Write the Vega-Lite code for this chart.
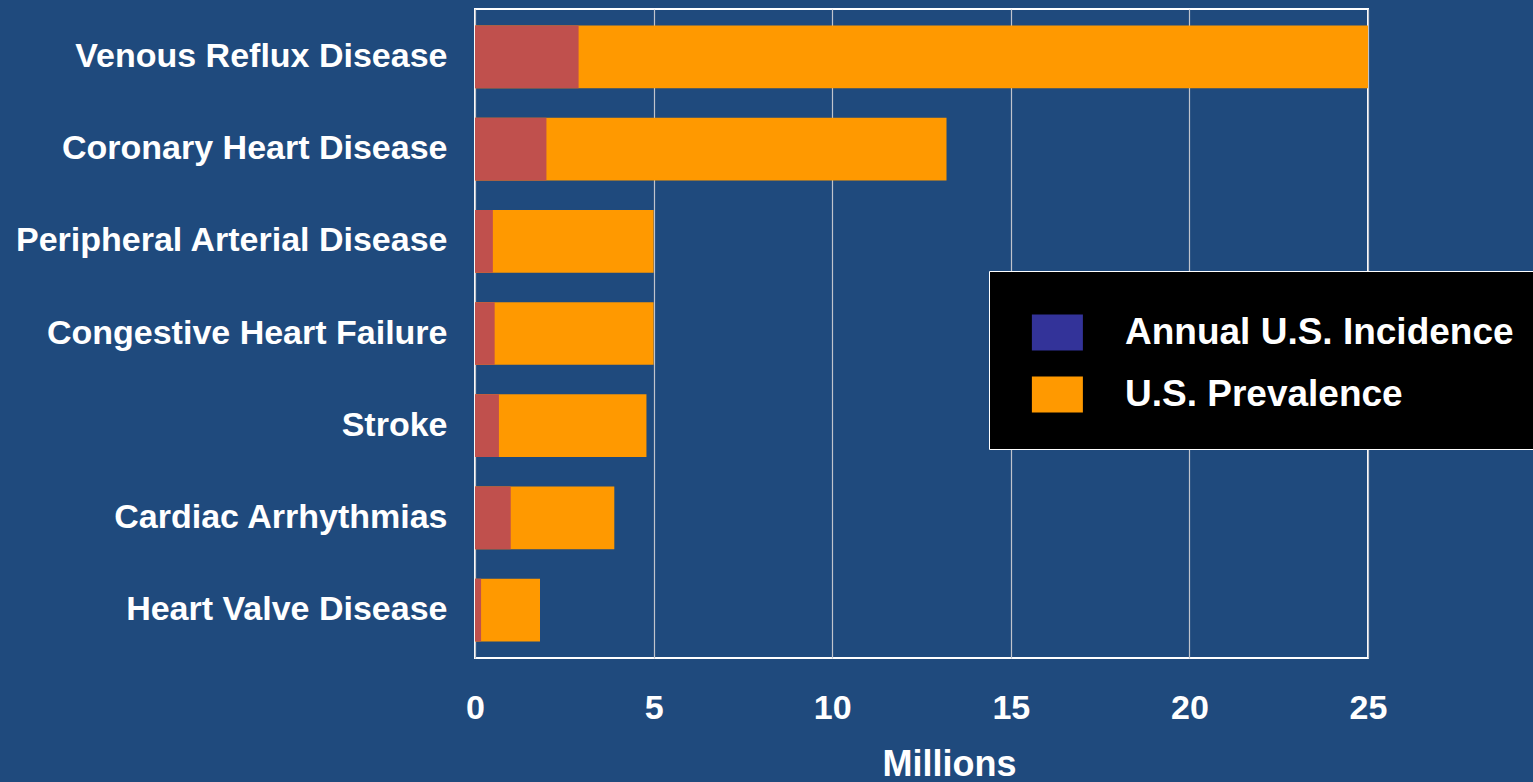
{
  "$schema": "https://vega.github.io/schema/vega-lite/v6.json",
  "autosize": "none",
  "padding": {"left": 475, "top": 9, "right": 165, "bottom": 124},
  "width": 893,
  "height": 649,
  "background": "#1F4A7D",
  "config": {
    "font": "Liberation Sans",
    "view": {"stroke": "#FFFFFF", "strokeWidth": 2, "fill": "#1F4A7D"},
    "axis": {"labelFont": "Liberation Sans", "labelFontWeight": "bold", "labelColor": "#FFFFFF", "titleFont": "Liberation Sans", "titleFontWeight": "bold", "titleColor": "#FFFFFF"}
  },
  "data": {
    "values": [
      {"disease": "Venous Reflux Disease", "incidence": 2.9, "prevalence": 25},
      {"disease": "Coronary Heart Disease", "incidence": 2.0, "prevalence": 13.2},
      {"disease": "Peripheral Arterial Disease", "incidence": 0.5, "prevalence": 5.0},
      {"disease": "Congestive Heart Failure", "incidence": 0.55, "prevalence": 5.0},
      {"disease": "Stroke", "incidence": 0.67, "prevalence": 4.8},
      {"disease": "Cardiac Arrhythmias", "incidence": 1.0, "prevalence": 3.9},
      {"disease": "Heart Valve Disease", "incidence": 0.17, "prevalence": 1.82}
    ]
  },
  "encoding": {
    "y": {
      "field": "disease", "type": "nominal", "sort": null,
      "scale": {"paddingInner": 0.32, "paddingOuter": 0.18},
      "axis": {"title": null, "ticks": false, "domain": false, "labelFontSize": 34, "labelPadding": 28, "labelLimit": 600, "grid": false}
    }
  },
  "layer": [
    {
      "mark": {"type": "bar", "clip": true},
      "encoding": {
        "x": {
          "field": "prevalence", "type": "quantitative",
          "scale": {"domain": [0, 25], "nice": false},
          "axis": {"title": "Millions", "values": [0, 5, 10, 15, 20, 25], "ticks": false, "domain": false, "grid": true, "gridColor": "#C0C4CC", "gridWidth": 1.2, "labelFlush": false, "labelFontSize": 34, "labelPadding": 33, "titleFontSize": 36, "titlePadding": 22, "titleX": 474}
        },
        "color": {
          "datum": "U.S. Prevalence",
          "scale": {"domain": ["Annual U.S. Incidence", "U.S. Prevalence"], "range": ["#333399", "#FF9900"]},
          "legend": {
            "title": null,
            "orient": "none",
            "legendX": 514,
            "legendY": 262,
            "fillColor": "#000000",
            "strokeColor": "#FFFFFF",
            "padding": 36,
            "symbolType": "M-0.73,-0.706L1.27,-0.706L1.27,0.706L-0.73,0.706Z",
            "symbolSize": 2601,
            "symbolStrokeWidth": 0,
            "symbolOpacity": 1,
            "labelFontSize": 37,
            "labelFont": "Liberation Sans",
            "labelFontWeight": "bold",
            "labelColor": "#FFFFFF",
            "labelOffset": 49,
            "labelLimit": 600,
            "rowPadding": 18
          }
        }
      }
    },
    {
      "mark": {"type": "bar", "color": "#C0504D"},
      "encoding": {
        "x": {"field": "incidence", "type": "quantitative"}
      }
    }
  ]
}
